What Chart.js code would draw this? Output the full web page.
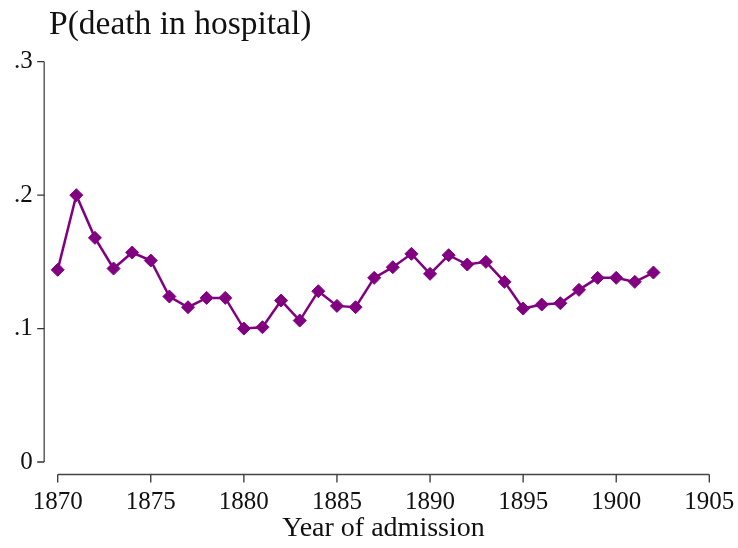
<!DOCTYPE html>
<html>
<head>
<meta charset="utf-8">
<script src="https://cdn.jsdelivr.net/npm/chart.js@4"></script>
<style>
  html, body { margin: 0; padding: 0; background: #fff; }
  #wrap { width: 738px; height: 548px; }
</style>
</head>
<body>
<div id="wrap"><canvas id="chart"></canvas></div>
<script>
const years = [1870, 1871, 1872, 1873, 1874, 1875, 1876, 1877, 1878, 1879, 1880,
  1881, 1882, 1883, 1884, 1885, 1886, 1887, 1888, 1889, 1890, 1891, 1892,
  1893, 1894, 1895, 1896, 1897, 1898, 1899, 1900, 1901, 1902];
const pDeath = [0.144, 0.200, 0.168, 0.145, 0.157, 0.151, 0.124, 0.116, 0.123,
  0.123, 0.100, 0.101, 0.121, 0.106, 0.128, 0.117, 0.116, 0.138, 0.146, 0.156,
  0.141, 0.155, 0.148, 0.150, 0.135, 0.115, 0.118, 0.119, 0.129, 0.138, 0.138,
  0.135, 0.142];
const xTicks = [1870, 1875, 1880, 1885, 1890, 1895, 1900, 1905];
const yTicks = [0, 0.1, 0.2, 0.3];
const yTickLabels = ["0", ".1", ".2", ".3"];

const serif = "'Liberation Serif', 'Times New Roman', serif";
const purple = "#800080";

// Stata-style detached axes, drawn from the scales
const detachedAxes = {
  id: "detachedAxes",
  afterLayout(chart) {
    // title sits a little left of the plot, over the y labels
    if (chart.titleBlock) chart.titleBlock.left = 49;
  },
  afterDraw(chart) {
    const { ctx, chartArea, scales: { x, y } } = chart;
    const ax = chartArea.left - 13.5;
    const ay = chartArea.bottom + 12.5;
    ctx.save();
    ctx.strokeStyle = "#666";
    ctx.lineWidth = 1.6;
    ctx.beginPath();
    ctx.moveTo(ax, y.getPixelForValue(0));
    ctx.lineTo(ax, y.getPixelForValue(0.3));
    ctx.stroke();
    ctx.strokeStyle = "#444";
    ctx.beginPath();
    ctx.moveTo(x.getPixelForValue(1870), ay);
    ctx.lineTo(x.getPixelForValue(1905), ay);
    ctx.stroke();
    ctx.strokeStyle = "#333";
    ctx.lineWidth = 1.3;
    ctx.beginPath();
    yTicks.forEach(v => {
      const py = y.getPixelForValue(v);
      ctx.moveTo(ax - 7, py);
      ctx.lineTo(ax, py);
    });
    xTicks.forEach(v => {
      const px = x.getPixelForValue(v);
      ctx.moveTo(px, ay);
      ctx.lineTo(px, ay + 8);
    });
    ctx.stroke();
    ctx.restore();
  }
};

new Chart(document.getElementById("chart"), {
  type: "line",
  data: {
    datasets: [{
      data: years.map((yr, i) => ({ x: yr, y: pDeath[i] })),
      borderColor: purple,
      backgroundColor: purple,
      borderWidth: 2.5,
      pointStyle: "rectRot",
      pointRadius: 6.5,
      pointBorderWidth: 1,
      pointBackgroundColor: purple,
      pointBorderColor: purple,
      tension: 0,
      clip: false
    }]
  },
  options: {
    responsive: true,
    maintainAspectRatio: false,
    animation: false,
    layout: { padding: { left: 0, right: 28.7, top: 0, bottom: 0 } },
    plugins: {
      legend: { display: false },
      tooltip: { enabled: false },
      title: {
        display: true,
        text: "P(death in hospital)",
        align: "start",
        color: "#111",
        font: { family: serif, size: 33.5, weight: "normal", lineHeight: 1.2 },
        padding: { top: 5.3, bottom: 16.2 }
      }
    },
    scales: {
      x: {
        type: "linear",
        min: 1870,
        max: 1905,
        border: { display: false },
        grid: { display: false, drawTicks: false },
        afterBuildTicks: s => { s.ticks = xTicks.map(v => ({ value: v })); },
        afterFit: s => {
          s.height = 86;
          s.paddingLeft = 0;
          s.paddingRight = 0;
        },
        ticks: {
          color: "#111",
          font: { family: serif, size: 25 },
          padding: 25.5,
          maxRotation: 0,
          callback: v => String(v)
        },
        title: {
          display: true,
          text: "Year of admission",
          color: "#111",
          font: { family: serif, size: 28 },
          padding: { top: 0, bottom: 3 }
        }
      },
      y: {
        min: 0,
        max: 0.3,
        border: { display: false },
        grid: { display: false, drawTicks: false },
        afterBuildTicks: s => { s.ticks = yTicks.map(v => ({ value: v })); },
        afterFit: s => { s.width = 57.7; },
        ticks: {
          color: "#111",
          font: { family: serif, size: 25 },
          padding: 25,
          callback: (v, i) => yTickLabels[i]
        }
      }
    }
  },
  plugins: [detachedAxes]
});
</script>
</body>
</html>
